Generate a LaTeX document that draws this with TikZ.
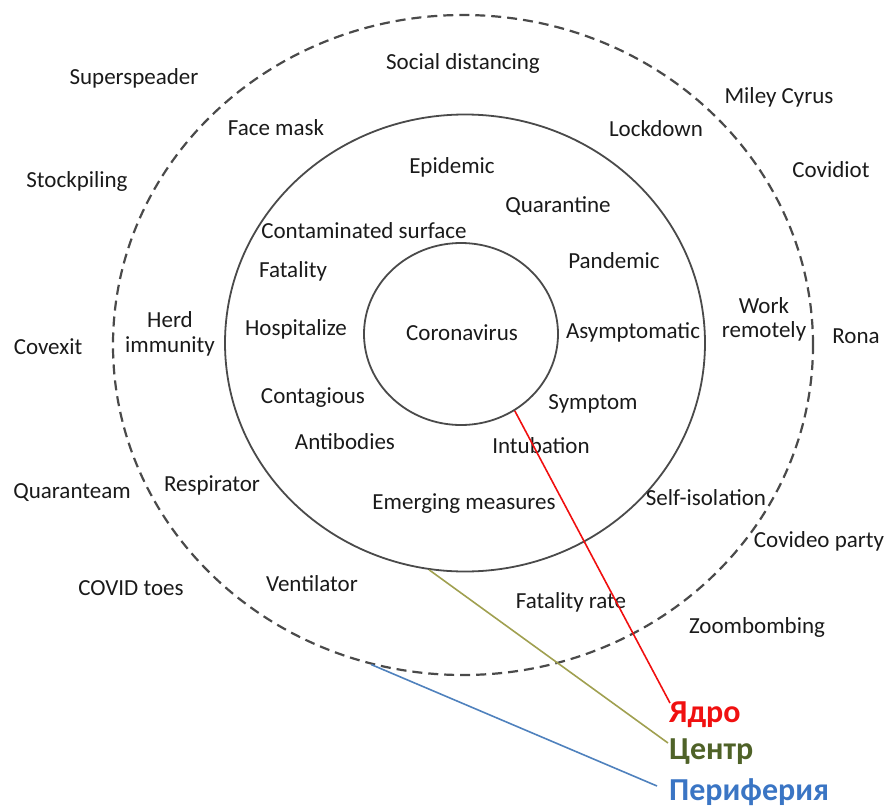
\documentclass[tikz,border=0pt]{standalone}
\usepackage{fontspec}
\setmainfont{Carlito}
\usetikzlibrary{shapes.geometric}
\definecolor{txt}{HTML}{1A1A1A}
\definecolor{ringcol}{HTML}{4A4A4A}
\definecolor{corered}{HTML}{F01010}
\definecolor{centreline}{HTML}{A0A050}
\definecolor{centretext}{HTML}{4F6228}
\definecolor{periline}{HTML}{4F81BD}
\definecolor{peritext}{HTML}{3A75C4}
\begin{document}
\begin{tikzpicture}[x=1pt,y=-1pt,
  word/.style={font=\fontsize{23}{27}\selectfont, text=txt, inner sep=0pt, align=center},
  ring/.style={ellipse, draw=ringcol, line width=1.8pt, inner sep=0pt},
  dashring/.style={ring, line width=2.2pt, dash pattern=on 10pt off 6pt},
  zone/.style={font=\fontsize{32}{36}\selectfont\bfseries, inner sep=0pt, anchor=west},
  link/.style={line width=1.6pt}]
\useasboundingbox (0,0) rectangle (889,811);

% three nested zones
\node[dashring, minimum width=700pt, minimum height=660pt] (outer) at (463,345) {};
\node[ring, minimum width=480pt, minimum height=457pt] (middle) at (465,343) {};
\node[ring, minimum width=194pt, minimum height=182pt] (inner) at (461,334) {};

% core
\node[word] (coronavirus) at (462,333) {Coronavirus};

% centre ring
\node[word] (epidemic) at (452,167) {Epidemic};
\node[word] (quarantine) at (558,206) {Quarantine};
\node[word] (contam) at (364,231) {Contaminated surface};
\node[word] (pandemic) at (614,261) {Pandemic};
\node[word] (fatality) at (293,271) {Fatality};
\node[word] (hospitalize) at (296,329) {Hospitalize};
\node[word] (asymptomatic) at (633,332) {Asymptomatic};
\node[word] (contagious) at (313,398) {Contagious};
\node[word] (symptom) at (593,404) {Symptom};
\node[word] (antibodies) at (345,442) {Antibodies};
\node[word] (intubation) at (541,446) {Intubation};
\node[word] (emerging) at (464,504) {Emerging measures};

% periphery ring
\node[word] (social) at (463,63) {Social distancing};
\node[word] (facemask) at (276,128) {Face mask};
\node[word] (lockdown) at (656,129) {Lockdown};
\node[word] (herd) at (170,334) {Herd\\[-2pt]immunity};
\node[word] (work) at (764,319) {Work\\[-3pt]remotely};
\node[word] (respirator) at (212,485) {Respirator};
\node[word] (selfiso) at (706,498) {Self-isolation};
\node[word] (ventilator) at (312,584) {Ventilator};
\node[word] (fatalrate) at (571,602) {Fatality rate};

% outside
\node[word] (superspeader) at (134,78) {Superspeader};
\node[word] (miley) at (779,97) {Miley Cyrus};
\node[word] (stockpiling) at (77,181) {Stockpiling};
\node[word] (covidiot) at (831,170) {Covidiot};
\node[word] (covexit) at (48,347) {Covexit};
\node[word] (rona) at (856,336) {Rona};
\node[word] (quaranteam) at (72,493) {Quaranteam};
\node[word] (covideo) at (819,541) {Covideo party};
\node[word] (covidtoes) at (131,588) {COVID toes};
\node[word] (zoombombing) at (757,627) {Zoombombing};

% legend
\node[zone, text=corered] (core) at (669,715) {Ядро};
\node[zone, text=centretext] (centre) at (669,752) {Центр};
\node[zone, text=peritext] (periphery) at (669,792) {Периферия};

\coordinate (coreend) at (670,703);
\coordinate (centreend) at (668,743);
\coordinate (periend) at (657,786);

\draw[link, corered] (inner.-55.6) -- (coreend);
\draw[link, centreline] (middle.-99.4) -- (centreend);
\draw[link, periline] (outer.-106.6) -- (periend);
\end{tikzpicture}
\end{document}
